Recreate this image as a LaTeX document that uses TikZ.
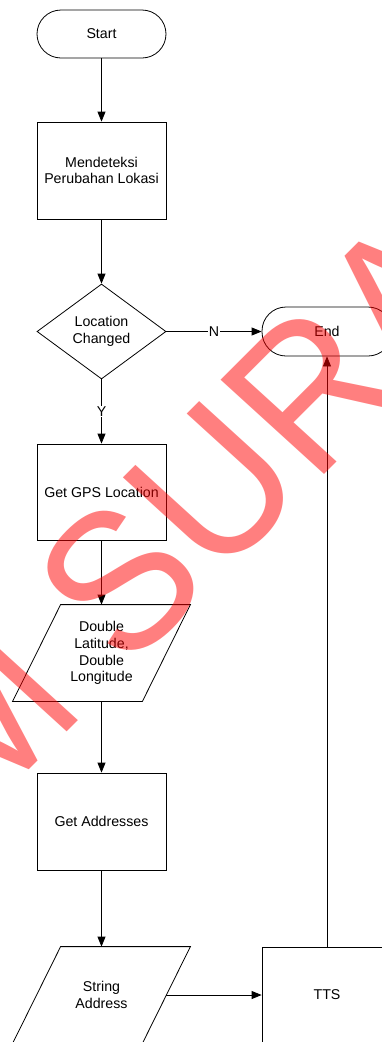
\documentclass[tikz,border=0pt]{standalone}
\usepackage{fontspec}
\setmainfont{Liberation Sans}
\usetikzlibrary{arrows.meta,shapes.geometric,calc}

\begin{document}
\begin{tikzpicture}[x=1pt,y=-1pt,line width=0.8pt,
  every node/.style={font=\fontsize{14.2}{16.8}\selectfont, align=center, inner sep=0pt},
  term/.style={draw, rectangle, rounded corners=24pt, minimum width=129pt, minimum height=48pt},
  procbox/.style={draw, rectangle, minimum width=129pt, minimum height=97pt},
  decision/.style={draw, diamond, aspect=1.36, minimum width=129pt, minimum height=95pt},
  iobox/.style={rectangle, minimum width=129pt, minimum height=96pt},
  flow/.style={-{Triangle[width=8pt,length=10pt]}},
  lbl/.style={fill=white, inner sep=1pt},
  mark wm/.style={text=red, text opacity=0.5, font=\fontsize{190}{190}\selectfont}]
\useasboundingbox (0,0) rectangle (382,1042);
\clip (0,0) rectangle (382,1042);

% main column
\node[term] (start) at (101.5,34) {Start};
\node[procbox] (detect) at (101.5,170.5) {Mendeteksi\\Perubahan Lokasi};
\node[decision] (chg) at (101.5,331.5) {Location\\Changed};
\node[term, minimum width=130pt, minimum height=49pt] (end) at (327,331.5) {End};
\node[procbox, minimum height=96pt] (gps) at (101.5,492) {Get GPS Location};
\node[iobox] (io1) at (101.5,653) {Double\\Latitude,\\Double\\Longitude};
\node[procbox] (addr) at (101.5,821.5) {Get Addresses};
\node[iobox] (io2) at (101.5,995) {String\\Address};
\node[procbox, minimum width=130pt, minimum height=96pt] (tts) at (327,995) {TTS};

% data (parallelogram) outlines
\foreach \p in {io1,io2}
  \draw ($(\p.north west)+(24,0)$) -- ($(\p.north east)+(24,0)$)
     -- ($(\p.south east)+(-24,0)$) -- ($(\p.south west)+(-24,0)$) -- cycle;

% connectors
\draw[flow] (start) -- (detect);
\draw[flow] (detect) -- (chg);
\draw[flow] (chg.east) -- node[lbl] {N} (end.west);
\draw[flow] (chg.south) -- node[lbl] {Y} (gps.north);
\draw[flow] (gps) -- (io1.north);
\draw[flow] (io1.south) -- (addr.north);
\draw[flow] (addr) -- (io2.north);
\draw[flow] (io2.east) -- (tts.west);
\draw[flow] (tts.north) -- (end.south);

% watermark
\node[mark wm, rotate=45, yscale=1.07, xslant=-0.05, anchor=base west] (wm) at (-22.6,821.7) {M SURA};
\end{tikzpicture}
\end{document}
